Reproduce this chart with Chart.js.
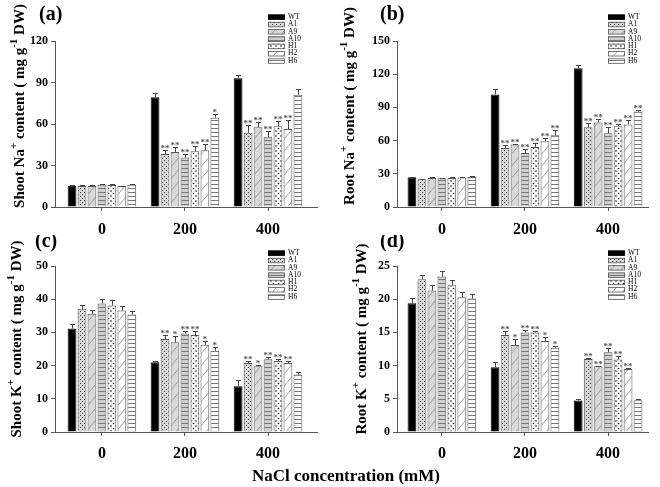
<!DOCTYPE html>
<html>
<head>
<meta charset="utf-8">
<script src="https://cdn.jsdelivr.net/npm/chart.js@4.4.1/dist/chart.umd.min.js"></script>
<style>
  body { margin: 0; background: #fff; }
  #fig { position: relative; width: 660px; height: 487px; }
  canvas { position: absolute; }
  #xtitle { position: absolute; left: 0; width: 692px; top: 466px; text-align: center;
            font: bold 17px "Liberation Serif", serif; color: #000; }
</style>
</head>
<body>
<div id="fig">
  <canvas id="pa" width="330" height="235" style="left:0;top:0;width:330px;height:235px"></canvas>
  <canvas id="pb" width="330" height="235" style="left:330px;top:0;width:330px;height:235px"></canvas>
  <canvas id="pc" width="330" height="232" style="left:0;top:235px;width:330px;height:232px"></canvas>
  <canvas id="pd" width="330" height="232" style="left:330px;top:235px;width:330px;height:232px"></canvas>
  <div id="xtitle">NaCl concentration (mM)</div>
</div>
<script>
// NaCl levels (mM) and plant lines
const concs = [0, 200, 400];
const lines = ['WT', 'A1', 'A9', 'A10', 'H1', 'H2', 'H6'];

// one row per line, one value per NaCl level
const shootNa = [[15.4, 79.3, 93], [15.2, 38.3, 53.7], [15.2, 39.8, 57.6], [16.1, 35.7, 50.8],
                 [15.9, 40.3, 58.3], [15.2, 41, 56.4], [16.1, 64.6, 81.2]];
const shootNaErr = [[0.4, 2.9, 2.4], [0.4, 2.9, 5.6], [0.4, 3.4, 3.9], [0.4, 2.4, 4.2],
                    [0.4, 3.8, 3.7], [0.3, 4.3, 6.5], [0.4, 2.6, 3.9]];
const shootNaSig = [['', '', ''], ['', '**', '**'], ['', '**', '**'], ['', '**', '**'],
                    ['', '**', '**'], ['', '**', '**'], ['', '*', '']];

const rootNa = [[26.9, 101.7, 125.3], [25, 53.4, 72.1], [26.3, 56.4, 76.4], [26, 48.9, 66.7],
                [26.3, 54.3, 73], [26.6, 59.5, 74.6], [27.2, 64.9, 86.3]];
const rootNaErr = [[0.5, 4.5, 2.7], [0.4, 2.4, 3.4], [0.4, 0.5, 3], [0.4, 3.3, 5.4],
                   [0.4, 3.3, 1.6], [0.4, 3, 3.6], [0.5, 4.5, 1.8]];
const rootNaSig = [['', '', ''], ['', '**', '**'], ['', '**', '**'], ['', '**', '**'],
                   ['', '**', '**'], ['', '**', '**'], ['', '**', '**']];

const shootK = [[31.2, 21, 13.8], [37.1, 28, 20.8], [35.6, 27, 19.8], [38.7, 29.7, 21.9],
                [38.1, 29.2, 21.4], [36.6, 26.3, 20.8], [35.4, 24.5, 17.3]];
const shootKErr = [[1.4, 0.5, 1.8], [1.3, 1.3, 0.7], [1.2, 1.8, 0.4], [1.4, 0.8, 0.8],
                   [1.6, 1.3, 0.7], [1.5, 1.2, 0.7], [1, 1, 0.9]];
const shootKSig = [['', '', ''], ['', '**', '**'], ['', '*', '*'], ['', '**', '**'],
                   ['', '**', '**'], ['', '*', '**'], ['', '*', '']];

const rootK = [[19.4, 9.75, 4.75], [23, 14.6, 11], [21.3, 13.1, 9.9], [23.4, 15, 12],
               [22.1, 15, 10.9], [20.3, 13.7, 9.5], [20.1, 12.7, 4.8]];
const rootKErr = [[0.8, 0.8, 0.2], [0.7, 0.6, 0.1], [0.9, 0.9, 0.1], [0.9, 0.3, 0.6],
                  [0.8, 0.2, 0.6], [0.8, 0.6, 0.1], [0.7, 0.3, 0.1]];
const rootKSig = [['', '', ''], ['', '**', '**'], ['', '*', '**'], ['', '**', '**'],
                  ['', '**', '**'], ['', '*', '**'], ['', '*', '']];

Chart.defaults.font.family = '"Liberation Serif", serif';

function makePattern(kind) {
  const c = document.createElement('canvas');
  let w = 4, h = 4;
  if (kind === 'diagGray' || kind === 'diagWhite') { w = 10; h = 12; }
  if (kind === 'dotsWhite') { w = 5; h = 5; }
  c.width = w; c.height = h;
  const g = c.getContext('2d');
  const gray = kind.endsWith('Gray');
  g.fillStyle = kind === 'hlineGray' ? '#cfcfcf' : (gray ? '#d9d9d9' : '#fff');
  g.fillRect(0, 0, w, h);
  if (kind === 'dotsGray') {
    g.fillStyle = '#333';
    g.fillRect(0, 0, 1, 1);
    g.fillRect(2, 2, 1, 1);
  } else if (kind === 'dotsWhite') {
    g.fillStyle = '#000';
    g.beginPath(); g.arc(1, 1, 0.8, 0, Math.PI * 2); g.fill();
    g.beginPath(); g.arc(3.5, 3.5, 0.8, 0, Math.PI * 2); g.fill();
  } else if (kind === 'diagGray' || kind === 'diagWhite') {
    g.strokeStyle = '#888';
    g.lineWidth = 0.8;
    g.beginPath();
    g.moveTo(0, h); g.lineTo(w, 0);
    g.moveTo(-w, h); g.lineTo(0, 0);
    g.moveTo(w, h); g.lineTo(2 * w, 0);
    g.stroke();
  } else if (kind === 'hlineGray' || kind === 'hlineWhite') {
    g.fillStyle = '#777';
    g.fillRect(0, 0, w, 1);
  }
  return g.createPattern(c, 'repeat');
}

const fills = ['#000', makePattern('dotsGray'), makePattern('diagGray'), makePattern('hlineGray'),
               makePattern('dotsWhite'), makePattern('diagWhite'), makePattern('hlineWhite')];

// error bars, asterisks, legend, axis title and panel letter
const panelPlugin = {
  id: 'panel',
  afterDatasetsDraw(chart, args, opts) {
    const ctx = chart.ctx;
    const yScale = chart.scales.y;
    ctx.save();
    ctx.strokeStyle = '#444';
    ctx.lineWidth = 1;
    ctx.fillStyle = '#555';
    ctx.font = 'bold 9px "Liberation Serif"';
    ctx.textAlign = 'center';
    ctx.textBaseline = 'alphabetic';
    chart.data.datasets.forEach((ds, i) => {
      chart.getDatasetMeta(i).data.forEach((bar, j) => {
        const top = yScale.getPixelForValue(ds.data[j] + opts.err[i][j]);
        const x = Math.round(bar.x) + 0.5;
        const cap = 2.5;
        ctx.beginPath();
        ctx.moveTo(x, bar.y);
        ctx.lineTo(x, Math.round(top) + 0.5);
        ctx.moveTo(x - cap, Math.round(top) + 0.5);
        ctx.lineTo(x + cap, Math.round(top) + 0.5);
        ctx.stroke();
        const s = opts.sig[i][j];
        if (s) ctx.fillText(s, bar.x, top + 1);
      });
    });
    ctx.restore();
  },
  afterDraw(chart, args, opts) {
    const ctx = chart.ctx;
    ctx.save();
    // legend
    ctx.font = '7.5px "Liberation Serif"';
    ctx.textBaseline = 'middle';
    ctx.textAlign = 'left';
    chart.data.datasets.forEach((ds, i) => {
      const y = opts.legendY + i * 7.3;
      ctx.fillStyle = ds.backgroundColor;
      ctx.fillRect(opts.legendX, y - 2.5, 17, 5);
      ctx.strokeStyle = ds.borderColor;
      ctx.lineWidth = 0.8;
      ctx.strokeRect(opts.legendX + 0.5, y - 2, 16, 4.5);
      ctx.fillStyle = '#000';
      ctx.fillText(ds.label, opts.legendX + 20, y);
    });
    // panel letter
    ctx.font = 'bold 20px "Liberation Serif"';
    ctx.textBaseline = 'middle';
    ctx.fillText(opts.letter, opts.letterX, opts.letterY);
    // rotated y title with superscripts
    const big = 'bold 15px "Liberation Serif"';
    const small = 'bold 11px "Liberation Serif"';
    let total = 0;
    opts.title.forEach(([t, sup]) => { ctx.font = sup ? small : big; total += ctx.measureText(t).width; });
    ctx.translate(opts.titleX, opts.titleY);
    ctx.rotate(-Math.PI / 2);
    ctx.textBaseline = 'middle';
    let x = -total / 2;
    opts.title.forEach(([t, sup]) => {
      ctx.font = sup ? small : big;
      ctx.fillText(t, x, sup ? -6 : 0);
      x += ctx.measureText(t).width;
    });
    ctx.restore();
  }
};

function makePanel(id, vals, errs, sigs, yMax, yStep, box, panel) {
  const canvas = document.getElementById(id);
  new Chart(canvas, {
    type: 'bar',
    data: {
      labels: concs,
      datasets: lines.map((name, i) => ({
        label: name,
        data: vals[i],
        backgroundColor: fills[i],
        borderColor: i === 0 ? '#000' : '#555',
        borderWidth: 1,
        barPercentage: 0.88,
        categoryPercentage: 0.84
      }))
    },
    options: {
      responsive: false,
      animation: false,
      layout: { padding: { left: 0, top: box.top, right: canvas.width - box.right, bottom: 0 } },
      plugins: {
        legend: { display: false },
        tooltip: { enabled: false },
        panel: Object.assign({ err: errs, sig: sigs }, panel)
      },
      scales: {
        x: {
          type: 'linear',
          min: box.xMin,
          max: box.xMax,
          offset: false,
          afterBuildTicks: s => { s.ticks = concs.map(v => ({ value: v })); },
          afterFit: s => { s.height = canvas.height - box.bottom; },
          grid: { display: true, offset: false, drawOnChartArea: false, tickLength: 4, color: '#555' },
          border: { color: '#555' },
          ticks: { color: '#000', font: { size: 16, weight: 'bold' }, padding: box.xPad, maxRotation: 0 }
        },
        y: {
          min: 0,
          max: yMax,
          afterFit: s => { s.width = box.left; },
          grid: { drawOnChartArea: false, tickLength: 4, color: '#555' },
          border: { color: '#555' },
          ticks: { stepSize: yStep, color: '#000', font: { size: 12, weight: 'bold' }, padding: 3 }
        }
      }
    },
    plugins: [panelPlugin]
  });
}

makePanel('pa', shootNa, shootNaErr, shootNaSig, 120, 30,
  { left: 55, right: 317, top: 41, bottom: 207, xMin: -113, xMax: 518, xPad: 9 },
  { letter: '(a)', letterX: 39, letterY: 15, legendX: 268, legendY: 17, titleX: 20, titleY: 106,
    title: [['Shoot Na', 0], ['+', 1], [' content ( mg g', 0], ['-1', 1], [' DW)', 0]] });
makePanel('pb', rootNa, rootNaErr, rootNaSig, 150, 30,
  { left: 67, right: 318, top: 41, bottom: 207, xMin: -108, xMax: 496, xPad: 9 },
  { letter: '(b)', letterX: 50, letterY: 15, legendX: 278, legendY: 17, titleX: 20, titleY: 106,
    title: [['Root Na', 0], ['+', 1], [' content ( mg g', 0], ['-1', 1], [' DW)', 0]] });
makePanel('pc', shootK, shootKErr, shootKSig, 50, 10,
  { left: 55, right: 317, top: 31, bottom: 197, xMin: -113, xMax: 518, xPad: 8 },
  { letter: '(c)', letterX: 35, letterY: 7, legendX: 268, legendY: 18, titleX: 17, titleY: 104,
    title: [['Shoot K', 0], ['+', 1], [' content ( mg g', 0], ['-1', 1], [' DW)', 0]] });
makePanel('pd', rootK, rootKErr, rootKSig, 25, 5,
  { left: 67, right: 318, top: 31, bottom: 197, xMin: -108, xMax: 496, xPad: 8 },
  { letter: '(d)', letterX: 50, letterY: 7, legendX: 278, legendY: 18, titleX: 32, titleY: 104,
    title: [['Root K', 0], ['+', 1], [' content ( mg g', 0], ['-1', 1], [' DW)', 0]] });
</script>
</body>
</html>
